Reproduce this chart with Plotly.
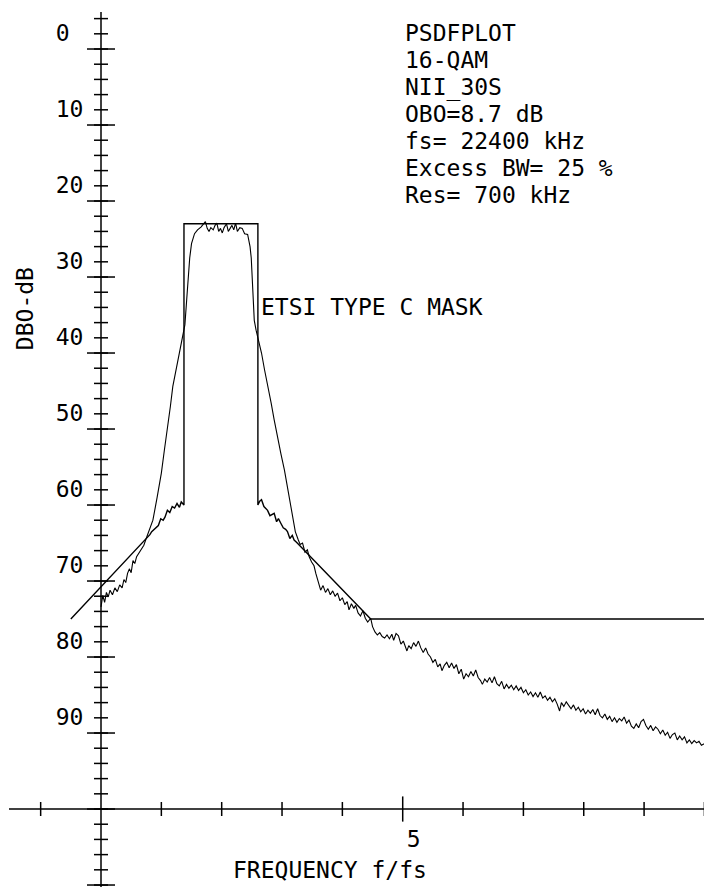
import plotly.graph_objects as go

# ---------------- data ----------------
# measured PSD (f/fs, dB below reference)
SPEC_F = [0.00, 0.03, 0.06, 0.09, 0.12, 0.15, 0.19, 0.23, 0.27, 0.31, 0.35, 0.38, 0.41, 0.44, 0.47, 0.50,
          0.53, 0.56, 0.59, 0.62, 0.65, 0.68, 0.71, 0.74,
          0.80, 0.86, 0.93, 1.00, 1.05, 1.11, 1.15, 1.19, 1.25, 1.30, 1.35, 1.39, 1.42, 1.44, 1.47, 1.50,
          1.55, 1.60, 1.66, 1.70, 1.73, 1.76, 1.79, 1.82, 1.86, 1.89, 1.92, 1.95, 1.98, 2.01, 2.04, 2.08,
          2.11, 2.14, 2.17, 2.20, 2.23, 2.26, 2.30, 2.34, 2.38, 2.43, 2.47, 2.49, 2.51, 2.54, 2.57, 2.60,
          2.66, 2.71, 2.77, 2.82, 2.87, 2.92, 2.98, 3.04, 3.10, 3.17, 3.22, 3.27,
          3.30, 3.34, 3.38, 3.42, 3.45, 3.49, 3.53, 3.56, 3.60, 3.64, 3.68, 3.72, 3.76, 3.80, 3.84, 3.88,
          3.92, 3.96, 4.00, 4.04, 4.08, 4.11, 4.15, 4.19, 4.22, 4.26, 4.30, 4.34, 4.38, 4.42, 4.47, 4.50,
          4.54, 4.58, 4.62, 4.66, 4.70, 4.74, 4.78, 4.82, 4.85, 4.89, 4.93, 4.97, 5.01, 5.04, 5.07, 5.10,
          5.14, 5.18, 5.22, 5.26, 5.30, 5.34, 5.38, 5.42, 5.46, 5.50, 5.54, 5.58, 5.62, 5.65, 5.69, 5.73,
          5.77, 5.81, 5.85, 5.89, 5.93, 5.97, 6.01, 6.05, 6.09, 6.13, 6.17, 6.21, 6.25, 6.29, 6.32, 6.36,
          6.40, 6.44, 6.48, 6.52, 6.56, 6.60, 6.64, 6.68, 6.72, 6.76, 6.80, 6.84, 6.88, 6.92, 6.96, 7.00,
          7.04, 7.08, 7.12, 7.16, 7.20, 7.24, 7.28, 7.32, 7.36, 7.40, 7.44, 7.48, 7.52, 7.56, 7.60, 7.63,
          7.67, 7.71, 7.75, 7.79, 7.83, 7.87, 7.91, 7.95, 7.99, 8.03, 8.07, 8.11, 8.15, 8.19, 8.23, 8.27,
          8.31, 8.35, 8.39, 8.43, 8.47, 8.51, 8.55, 8.59, 8.63, 8.67, 8.71, 8.75, 8.79, 8.83, 8.87, 8.91,
          8.95, 8.99, 9.03, 9.07, 9.11, 9.15, 9.19, 9.23, 9.27, 9.31, 9.35, 9.39, 9.43, 9.47, 9.51, 9.55,
          9.59, 9.63, 9.67, 9.71, 9.75, 9.79, 9.83, 9.87, 9.91, 9.95, 10.00]
SPEC_DB = [73.4, 71.9, 72.8, 71.5, 72.1, 71.2, 71.8, 70.9, 71.4, 70.5, 70.9, 69.8, 70.2, 69.0, 68.4, 68.9,
           67.3, 67.7, 66.8, 66.4, 66.1, 65.6, 65.3, 64.6,
           63.3, 62.0, 59.0, 55.8, 52.8, 49.7, 47.0, 44.4, 42.0, 40.0, 37.8, 36.3, 33.0, 30.4, 27.5, 25.6,
           24.3, 23.8, 23.4, 23.0, 22.7, 23.6, 24.0, 23.5, 23.8, 23.2, 22.9, 24.0, 23.6, 24.2, 23.5, 23.0,
           24.0, 23.6, 23.2, 23.8, 22.9, 24.0, 23.5, 23.6, 24.3, 24.4, 26.0, 27.5, 31.3, 35.7, 37.0, 37.9,
           40.0, 42.2, 44.4, 46.6, 48.8, 51.0, 53.2, 55.4, 58.3, 61.1, 63.5, 64.6,
           65.2, 65.0, 66.2, 65.9, 66.8, 67.5, 68.0, 69.0, 70.2, 71.2, 70.6, 71.5, 71.0, 71.8, 71.3, 72.0,
           71.6, 72.6, 72.2, 73.1, 72.7, 73.8, 73.0, 73.6, 73.2, 74.2, 74.6, 73.9, 74.9, 75.4, 74.9, 76.0,
           76.7, 77.1, 76.8, 77.3, 77.5, 77.1, 77.6, 77.0, 77.8, 76.9, 77.2, 78.3, 77.9, 78.6, 79.2, 78.5,
           78.9, 78.1, 78.6, 77.9, 78.8, 79.4, 78.8, 79.6, 80.0, 80.7, 80.3, 81.3, 80.9, 81.8, 81.1, 80.7,
           81.4, 80.8, 81.5, 81.0, 82.2, 81.6, 82.9, 82.2, 82.6, 81.9, 82.5, 81.7, 82.7, 83.1, 83.6, 82.9,
           83.3, 82.7, 83.4, 82.6, 83.5, 83.8, 83.2, 84.2, 83.6, 84.1, 83.7, 84.3, 83.8, 84.4, 84.0, 84.7,
           84.3, 85.0, 84.6, 85.2, 84.7, 85.3, 84.6, 85.4, 85.1, 85.7, 85.3, 85.9, 85.5, 86.2, 87.1, 86.0,
           86.5, 85.9, 86.4, 86.8, 86.3, 87.0, 86.6, 87.2, 86.8, 87.5, 87.0, 87.4, 86.9, 87.6, 86.8, 87.7,
           88.0, 87.5, 88.2, 87.8, 88.5, 88.0, 88.6, 88.1, 88.4, 87.9, 88.7, 88.3, 89.1, 89.4, 88.8, 89.3,
           88.5, 88.2, 89.0, 89.5, 89.0, 89.7, 89.2, 89.5, 90.1, 89.6, 90.3, 89.9, 90.7, 90.2, 90.0, 90.9,
           90.4, 90.9, 90.5, 91.3, 90.9, 91.4, 91.0, 91.3, 91.1, 91.6, 91.4]

# shoulders joined to the mask corners
SHOULDER_L_F = [0.74, 0.77, 0.81, 0.84, 0.88, 0.92, 0.95, 0.99, 1.03, 1.06, 1.10, 1.14, 1.18, 1.22, 1.26, 1.30, 1.33, 1.375]
SHOULDER_L_DB = [64.6, 64.3, 63.9, 63.5, 63.2, 62.9, 62.7, 61.8, 62.0, 61.6, 60.7, 61.0, 60.2, 60.4, 59.8, 60.3, 59.6, 60.0]
SHOULDER_R_F = [2.60, 2.63, 2.66, 2.70, 2.73, 2.76, 2.80, 2.84, 2.87, 2.91, 2.94, 2.98, 3.02, 3.06, 3.09, 3.13, 3.17, 3.20, 3.24]
SHOULDER_R_DB = [60.0, 59.5, 59.3, 60.2, 60.5, 60.7, 61.4, 61.2, 61.1, 62.2, 61.8, 62.4, 63.0, 63.2, 63.5, 64.4, 64.0, 64.6, 64.9]

# ETSI type C mask straight segments
MASK_LEFT_F = [-0.50, 0.74]
MASK_LEFT_DB = [75.0, 64.6]
MASK_TOP_F = [1.375, 1.375, 2.60, 2.60]
MASK_TOP_DB = [60.0, 23.0, 23.0, 60.0]
MASK_RIGHT_F = [3.24, 4.47, 10.0]
MASK_RIGHT_DB = [64.9, 75.0, 75.0]

# axes ticks
Y_MINOR = list(range(-4, 111, 2))
Y_MAJOR = list(range(0, 111, 10))
Y_LABELS = list(range(0, 91, 10))
X_MINOR = [-1, 1, 2, 3, 4, 6, 7, 8, 9, 10]
X_MAJOR = [5]
X_LABELS = [5]

INFO_LINES = ["PSDFPLOT", "16-QAM", "NII_30S", "OBO=8.7 dB", "fs= 22400 kHz",
              "Excess BW= 25 %", "Res= 700 kHz"]

# ---------------- figure ----------------
FONT = "DejaVu Sans Mono"
FS = 23
X_AXIS_AT = 100   # dB level of the frequency axis

fig = go.Figure()

mask_f = MASK_LEFT_F + SHOULDER_L_F + MASK_TOP_F + SHOULDER_R_F + MASK_RIGHT_F
mask_db = MASK_LEFT_DB + SHOULDER_L_DB + MASK_TOP_DB + SHOULDER_R_DB + MASK_RIGHT_DB
fig.add_trace(go.Scatter(x=mask_f, y=mask_db, mode="lines",
                         line=dict(color="black", width=1.4), hoverinfo="skip"))
fig.add_trace(go.Scatter(x=SPEC_F, y=SPEC_DB, mode="lines",
                         line=dict(color="black", width=1.1), hoverinfo="skip"))

# tick marks
fig.add_trace(go.Scatter(x=[0] * len(Y_MINOR), y=Y_MINOR, mode="markers",
                         marker=dict(symbol="line-ew", size=10, line=dict(color="black", width=1.5))))
fig.add_trace(go.Scatter(x=[0] * len(Y_MAJOR), y=Y_MAJOR, mode="markers",
                         marker=dict(symbol="line-ew", size=20, line=dict(color="black", width=1.5))))
fig.add_trace(go.Scatter(x=X_MINOR, y=[X_AXIS_AT] * len(X_MINOR), mode="markers",
                         marker=dict(symbol="line-ns", size=10, line=dict(color="black", width=1.5))))
fig.add_trace(go.Scatter(x=X_MAJOR, y=[X_AXIS_AT] * len(X_MAJOR), mode="markers",
                         marker=dict(symbol="line-ns", size=18, line=dict(color="black", width=1.5))))

# tick labels
fig.add_trace(go.Scatter(x=[-0.75] * len(Y_LABELS), y=[v - 1.85 for v in Y_LABELS],
                         mode="text", text=[str(v) for v in Y_LABELS], textposition="middle right",
                         textfont=dict(family=FONT, size=FS, color="black")))
fig.add_trace(go.Scatter(x=[v + 0.18 for v in X_LABELS], y=[X_AXIS_AT + 4.2] * len(X_LABELS),
                         mode="text", text=[str(v) for v in X_LABELS], textposition="middle center",
                         textfont=dict(family=FONT, size=FS, color="black")))

# axis lines
fig.add_shape(type="line", xref="x", yref="paper", x0=0, x1=0, y0=0, y1=1,
              line=dict(color="black", width=1.5))
fig.add_shape(type="line", xref="paper", yref="y", x0=0, x1=1, y0=X_AXIS_AT, y1=X_AXIS_AT,
              line=dict(color="black", width=1.5))

# texts
for i, s in enumerate(INFO_LINES):
    fig.add_annotation(x=5.0, y=-2.1 + i * 3.55, xref="x", yref="y", text=s, showarrow=False,
                       xanchor="left", yanchor="middle",
                       font=dict(family=FONT, size=FS, color="black"))
fig.add_annotation(x=2.62, y=34.0, xref="x", yref="y", text="ETSI TYPE C MASK", showarrow=False,
                   xanchor="left", yanchor="middle", font=dict(family=FONT, size=FS, color="black"))
fig.add_annotation(x=3.8, y=108.0, xref="x", yref="y", text="FREQUENCY f/fs", showarrow=False,
                   xanchor="center", yanchor="middle", font=dict(family=FONT, size=FS, color="black"))
fig.add_annotation(x=-1.26, y=34.1, xref="x", yref="y", text="DBO-dB", showarrow=False, textangle=-90,
                   xanchor="center", yanchor="middle", font=dict(family=FONT, size=FS, color="black"))

fig.update_layout(
    width=704, height=887,
    margin=dict(l=9, r=0, t=12, b=0),
    paper_bgcolor="white", plot_bgcolor="white",
    showlegend=False,
    xaxis=dict(range=[-1.5247, 9.993], visible=False, fixedrange=True),
    yaxis=dict(range=[110.26, -4.87], visible=False, fixedrange=True),
)

fig.write_html("out.html", config={"displayModeBar": False},
               post_script="document.body.style.margin='0px';document.body.style.overflow='hidden';")
